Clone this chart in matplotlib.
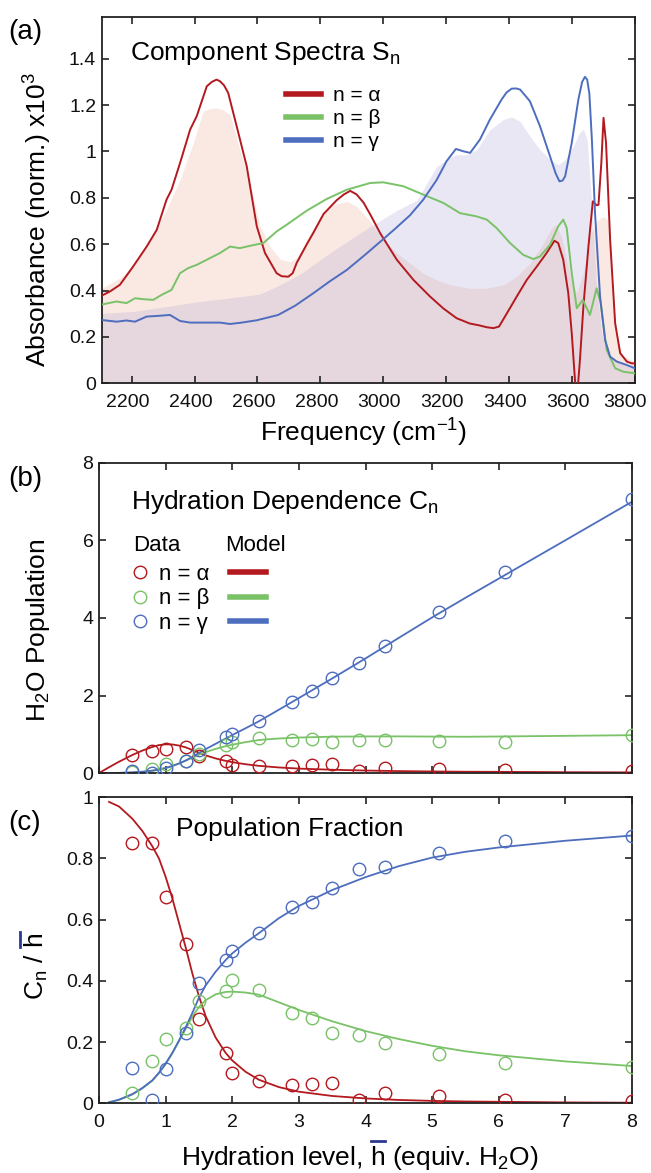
import numpy as np
import matplotlib
matplotlib.use("Agg")
import matplotlib.pyplot as plt
from matplotlib.lines import Line2D
from matplotlib.transforms import ScaledTranslation

plt.rcParams['font.family'] = ['Liberation Sans', 'DejaVu Sans']
plt.rcParams['mathtext.fontset'] = 'custom'
plt.rcParams['mathtext.rm'] = 'Liberation Sans'
plt.rcParams['mathtext.it'] = 'Liberation Sans:italic'
plt.rcParams['mathtext.default'] = 'regular'

# --- (a) component spectra ---
alpha_freq = [2099, 2131, 2163, 2205, 2248, 2280, 2311, 2327, 2354, 2386, 2407, 2439, 2455,
              2470, 2481, 2494, 2507, 2534, 2566, 2598, 2624, 2661, 2677, 2698, 2712, 2725,
              2757, 2778, 2810, 2852, 2875, 2895, 2915, 2937, 2960, 2990, 3043, 3096, 3149,
              3191, 3233, 3275, 3305, 3329, 3350, 3368, 3392, 3424, 3456, 3488, 3519, 3544,
              3556, 3572, 3588, 3599, 3610, 3617, 3625, 3636, 3652, 3666, 3678, 3684, 3693,
              3700, 3708, 3721, 3737, 3753, 3774, 3790, 3800]
alpha_abs = [0.374, 0.396, 0.425, 0.504, 0.590, 0.662, 0.792, 0.835, 0.950, 1.094, 1.152,
             1.281, 1.300, 1.310, 1.303, 1.285, 1.253, 1.109, 0.936, 0.677, 0.562, 0.475,
             0.462, 0.460, 0.475, 0.52, 0.60, 0.65, 0.73, 0.79, 0.815, 0.83, 0.815, 0.78,
             0.725, 0.648, 0.533, 0.446, 0.374, 0.323, 0.281, 0.258, 0.250, 0.242, 0.238,
             0.245, 0.300, 0.374, 0.446, 0.504, 0.562, 0.615, 0.605, 0.533, 0.389, 0.216,
             0.0, -0.04, 0.10, 0.331, 0.590, 0.785, 0.768, 0.77, 0.95, 1.145, 1.037, 0.619,
             0.259, 0.130, 0.094, 0.086, 0.086]

beta_freq = [2099, 2152, 2184, 2211, 2237, 2269, 2296, 2327, 2354, 2380, 2407, 2449, 2481,
             2513, 2544, 2576, 2619, 2661, 2693, 2757, 2820, 2884, 2958, 3000, 3064, 3127,
             3191, 3244, 3297, 3329, 3360, 3403, 3445, 3477, 3498, 3530, 3556, 3572, 3583,
             3599, 3615, 3634, 3657, 3678, 3691, 3710, 3737, 3763, 3800]
beta_abs = [0.338, 0.353, 0.346, 0.367, 0.363, 0.360, 0.382, 0.403, 0.475, 0.497, 0.511,
            0.540, 0.562, 0.590, 0.583, 0.593, 0.605, 0.655, 0.684, 0.745, 0.795, 0.835,
            0.864, 0.867, 0.850, 0.814, 0.778, 0.734, 0.720, 0.706, 0.670, 0.605, 0.554,
            0.536, 0.547, 0.598, 0.677, 0.706, 0.670, 0.475, 0.324, 0.360, 0.295, 0.410,
            0.346, 0.144, 0.065, 0.050, 0.043]

gamma_freq = [2099, 2152, 2184, 2211, 2248, 2285, 2322, 2354, 2386, 2449, 2481, 2513, 2550,
              2598, 2666, 2720, 2778, 2830, 2884, 2940, 3000, 3042, 3085, 3127, 3170, 3201,
              3231, 3254, 3276, 3307, 3339, 3376, 3392, 3408, 3422, 3435, 3466, 3498, 3530,
              3548, 3560, 3570, 3578, 3599, 3620, 3632, 3641, 3648, 3655, 3663, 3673, 3689,
              3705, 3721, 3742, 3774, 3800]
gamma_abs = [0.274, 0.266, 0.271, 0.266, 0.288, 0.291, 0.295, 0.269, 0.262, 0.262, 0.262,
             0.256, 0.262, 0.272, 0.295, 0.335, 0.389, 0.440, 0.489, 0.552, 0.622, 0.672,
             0.725, 0.792, 0.878, 0.958, 1.011, 1.001, 0.994, 1.051, 1.138, 1.224, 1.255,
             1.271, 1.272, 1.267, 1.217, 1.109, 0.979, 0.905, 0.871, 0.875, 0.893, 1.037,
             1.224, 1.300, 1.322, 1.310, 1.250, 1.051, 0.734, 0.374, 0.187, 0.115, 0.094,
             0.079, 0.065]

# shaded spectra behind the components
pink_freq = [2105, 2163, 2205, 2258, 2311, 2354, 2396, 2428, 2450, 2470, 2490, 2513, 2544,
             2576, 2608, 2640, 2672, 2703, 2725, 2757, 2799, 2841, 2884, 2916, 2958, 3000,
             3042, 3085, 3127, 3170, 3212, 3276, 3329, 3382, 3424, 3466, 3509, 3535, 3548,
             3566, 3583, 3599, 3615, 3636, 3657, 3678, 3700, 3715, 3726, 3742, 3763, 3800]
pink_abs = [0.41, 0.454, 0.504, 0.619, 0.749, 0.878, 1.037, 1.174, 1.185, 1.188, 1.18,
            1.159, 1.008, 0.864, 0.677, 0.590, 0.535, 0.525, 0.540, 0.619, 0.720, 0.770,
            0.785, 0.763, 0.698, 0.62, 0.562, 0.518, 0.475, 0.446, 0.425, 0.41, 0.41,
            0.425, 0.461, 0.518, 0.605, 0.670, 0.684, 0.634, 0.533, 0.432, 0.389, 0.475,
            0.634, 0.70, 0.72, 0.70, 0.40, 0.19, 0.115, 0.094]

lav_freq = [2105, 2205, 2311, 2417, 2513, 2608, 2672, 2735, 2831, 2900, 2968, 3000, 3042,
            3107, 3170, 3212, 3231, 3265, 3297, 3339, 3382, 3408, 3435, 3466, 3498, 3530,
            3556, 3578, 3604, 3623, 3636, 3648, 3663, 3678, 3694, 3710, 3742, 3800]
lav_abs = [0.302, 0.31, 0.331, 0.353, 0.368, 0.385, 0.425, 0.47, 0.563, 0.625, 0.684,
           0.71, 0.745, 0.79, 0.936, 0.975, 0.986, 0.986, 1.008, 1.094, 1.138, 1.149, 1.130,
           1.066, 1.008, 0.965, 0.943, 0.965, 1.022, 1.08, 1.097, 1.051, 0.763, 0.418,
           0.216, 0.13, 0.094, 0.065]

# --- (b) and (c) hydration data ---
h_data = [0.5, 0.8, 1.0, 1.3, 1.5, 1.9, 2.0, 2.4, 2.9, 3.2, 3.5, 3.9, 4.3, 5.1, 6.1, 8.0]
pop_alpha = [0.47, 0.58, 0.62, 0.68, 0.43, 0.32, 0.20, 0.17, 0.17, 0.20, 0.23, 0.04, 0.14, 0.11, 0.07, 0.06]
pop_beta = [0.03, 0.11, 0.22, 0.32, 0.49, 0.72, 0.81, 0.90, 0.86, 0.89, 0.81, 0.85, 0.84, 0.83, 0.81, 0.97]
pop_gamma = [0.04, 0.0, 0.12, 0.30, 0.60, 0.93, 1.00, 1.35, 1.84, 2.11, 2.45, 2.85, 3.27, 4.16, 5.19, 7.07]

frac_alpha = [0.852, 0.852, 0.675, 0.522, 0.277, 0.166, 0.100, 0.072, 0.060, 0.062, 0.066,
              0.011, 0.033, 0.024, 0.011, 0.007]
frac_beta = [0.033, 0.138, 0.211, 0.247, 0.334, 0.367, 0.403, 0.370, 0.296, 0.279, 0.231,
             0.222, 0.196, 0.162, 0.133, 0.120]
frac_gamma = [0.117, 0.011, 0.113, 0.231, 0.392, 0.467, 0.497, 0.558, 0.643, 0.659, 0.705,
              0.765, 0.771, 0.817, 0.857, 0.874]

# model curves (fractions)
h_model = [0.15, 0.3, 0.5, 0.65, 0.8, 0.9, 1.0, 1.1, 1.2, 1.3, 1.4, 1.5, 1.6, 1.75, 1.9,
           2.0, 2.2, 2.4, 2.7, 3.0, 3.5, 4.0, 4.5, 5.0, 5.5, 6.0, 7.0, 8.0]
model_alpha = [0.985, 0.97, 0.93, 0.89, 0.84, 0.80, 0.74, 0.67, 0.59, 0.51, 0.425, 0.35,
               0.285, 0.215, 0.165, 0.14, 0.103, 0.077, 0.053, 0.038, 0.024, 0.016, 0.011,
               0.008, 0.006, 0.005, 0.003, 0.002]
model_beta = [0.004, 0.011, 0.029, 0.049, 0.074, 0.099, 0.128, 0.163, 0.203, 0.243, 0.283,
              0.315, 0.337, 0.356, 0.364, 0.365, 0.362, 0.355, 0.33, 0.305, 0.268, 0.236,
              0.21, 0.188, 0.17, 0.157, 0.137, 0.122]
model_gamma = [0.003, 0.012, 0.03, 0.05, 0.075, 0.10, 0.13, 0.165, 0.205, 0.248, 0.295,
               0.345, 0.385, 0.43, 0.468, 0.49, 0.525, 0.556, 0.605, 0.645, 0.697, 0.739,
               0.775, 0.803, 0.822, 0.836, 0.858, 0.875]

labels = ['n = α', 'n = β', 'n = γ']
colors = ['#B3191E', '#79C267', '#4D6DBE']
bar_color = '#2B3990'

fig = plt.figure(figsize=(6.51, 11.73), dpi=100)
ax_a = fig.add_axes([0.1562, 0.6732, 0.8192, 0.3123])
ax_b = fig.add_axes([0.1521, 0.3410, 0.8187, 0.2643])
ax_c = fig.add_axes([0.1521, 0.0594, 0.8187, 0.2609])

for ax in (ax_a, ax_b, ax_c):
    ax.tick_params(direction='in', length=5, width=1.1, top=True, right=True,
                   labelsize=14, colors='#111111')
    for s in ax.spines.values():
        s.set_linewidth(1.3)
        s.set_color('#222222')

# (a)
ax_a.fill_between(pink_freq, pink_abs, color='#FAE8E2', lw=0, zorder=1)
ax_a.fill_between(lav_freq, lav_abs, color=(160 / 255, 150 / 255, 210 / 255), alpha=0.22,
                  lw=0, zorder=1.1)
for f, a, c in zip([alpha_freq, beta_freq, gamma_freq], [alpha_abs, beta_abs, gamma_abs], colors):
    ax_a.plot(f, a, color=c, lw=1.4, zorder=3, solid_joinstyle='round')
ax_a.set_xlim(2105, 3800)
ax_a.set_ylim(0, 1.58)
ax_a.set_xticks(np.arange(2200, 3801, 200))
ax_a.set_yticks([0, 0.2, 0.4, 0.6, 0.8, 1.0, 1.2, 1.4])
ax_a.set_yticklabels(['0', '0.2', '0.4', '0.6', '0.8', '1', '1.2', '1.4'])
ax_a.tick_params(axis='x', pad=8)
ax_a.tick_params(axis='y', pad=4)
xt = ax_a.get_xticklabels()
for i, lab in enumerate(xt):
    dx = -0.10 if i == len(xt) - 1 else -0.04
    lab.set_transform(lab.get_transform() + ScaledTranslation(dx, 0, fig.dpi_scale_trans))
ax_a.text(0.053, 0.90, 'Component Spectra S$_n$', transform=ax_a.transAxes,
          fontsize=19, ha='left', va='center')
handles_a = [Line2D([], [], color=c, lw=4) for c in colors]
ax_a.legend(handles_a, labels, loc='upper left', bbox_to_anchor=(0.3456, 0.812),
            frameon=False, fontsize=15, handlelength=1.7, handletextpad=0.58,
            labelspacing=0.2, borderpad=0, borderaxespad=0)

# (b)
for y, c in zip([pop_alpha, pop_beta, pop_gamma], colors):
    ax_b.plot(h_data, y, 'o', mfc='none', mec=c, ms=9, mew=1.0, zorder=3)
for fr, c in zip([model_alpha, model_beta, model_gamma], colors):
    hb = np.concatenate([[0.0], h_model])
    ax_b.plot(hb, hb * np.concatenate([[0.0], fr]), color=c, lw=1.3, zorder=2)
ax_b.set_xlim(0, 8)
ax_b.set_ylim(0, 8)
ax_b.set_xticks(np.arange(0, 9, 1))
ax_b.set_yticks([0, 2, 4, 6, 8])
ax_b.tick_params(axis='x', labelbottom=False)
ax_b.tick_params(axis='y', pad=4)
ax_b.text(0.060, 0.874, 'Hydration Dependence C$_n$', transform=ax_b.transAxes,
          fontsize=19, ha='left', va='center')
ax_b.text(0.0638, 0.735, 'Data', transform=ax_b.transAxes, fontsize=16, ha='left', va='center')
ax_b.text(0.2364, 0.735, 'Model', transform=ax_b.transAxes, fontsize=16, ha='left', va='center')
handles_b = ([Line2D([], [], ls='none', marker='o', mfc='none', mec=c, ms=9, mew=1.0) for c in colors]
             + [Line2D([], [], color=c, lw=4) for c in colors])
ax_b.legend(handles_b, labels + ['', '', ''], ncol=2, loc='upper left',
            bbox_to_anchor=(0.0441, 0.674), frameon=False, fontsize=16, handlelength=1.6,
            handletextpad=0.05, columnspacing=0.92, labelspacing=0.15, borderpad=0,
            borderaxespad=0)

# (c)
for y, c in zip([frac_alpha, frac_beta, frac_gamma], colors):
    ax_c.plot(h_data, y, 'o', mfc='none', mec=c, ms=9, mew=1.0, zorder=3)
for fr, c in zip([model_alpha, model_beta, model_gamma], colors):
    ax_c.plot(h_model, fr, color=c, lw=1.3, zorder=2)
ax_c.set_xlim(0, 8)
ax_c.set_ylim(0, 1)
ax_c.set_xticks(np.arange(0, 9, 1))
ax_c.set_yticks([0, 0.2, 0.4, 0.6, 0.8, 1.0])
ax_c.set_yticklabels(['0', '0.2', '0.4', '0.6', '0.8', '1'])
ax_c.tick_params(axis='x', pad=8)
ax_c.tick_params(axis='y', pad=4)
ax_c.text(0.1445, 0.896, 'Population Fraction', transform=ax_c.transAxes,
          fontsize=19, ha='left', va='center')

# panel letters and axis labels
for txt, y in [('(a)', 0.9727), ('(b)', 0.5917), ('(c)', 0.2984)]:
    fig.text(0.012, y, txt, fontsize=20, ha='left', va='center')
fig.text(0.559, 0.631, 'Frequency (cm$^{-1}$)', fontsize=19, ha='center', va='center')
fig.text(0.058, 0.8124, 'Absorbance (norm.) x10$^3$', fontsize=19, rotation=90,
         ha='center', va='center')
fig.text(0.058, 0.4629, 'H$_2$O Population', fontsize=19, rotation=90, ha='center', va='center')
ylab_c = fig.text(0.056, 0.1765, 'C$_n$ / h', fontsize=19, rotation=90, ha='center', va='center')
xlab_c = fig.text(0.553, 0.0128, 'Hydration level, h (equiv. H$_2$O)', fontsize=19,
                  ha='center', va='center')

# blue bars over the h's
fig.canvas.draw()
rend = fig.canvas.get_renderer()
inv = fig.transFigure.inverted()


def text_width(s):
    t = fig.text(0, 0, s, fontsize=19)
    w = t.get_window_extent(rend).width
    t.remove()
    return w


w_h = text_width('h')
bb = xlab_c.get_window_extent(rend)
x1 = bb.x0 + text_width('Hydration level, h')
p0 = inv.transform((x1 - w_h, bb.y1 + 3))
p1 = inv.transform((x1, bb.y1 + 3))
fig.add_artist(Line2D([p0[0], p1[0]], [p0[1], p1[1]], color=bar_color, lw=2,
                      transform=fig.transFigure))
bb = ylab_c.get_window_extent(rend)
p0 = inv.transform((bb.x0 - 3, bb.y1 - w_h))
p1 = inv.transform((bb.x0 - 3, bb.y1))
fig.add_artist(Line2D([p0[0], p1[0]], [p0[1], p1[1]], color=bar_color, lw=2,
                      transform=fig.transFigure))

fig.savefig('out.png', dpi=100)
